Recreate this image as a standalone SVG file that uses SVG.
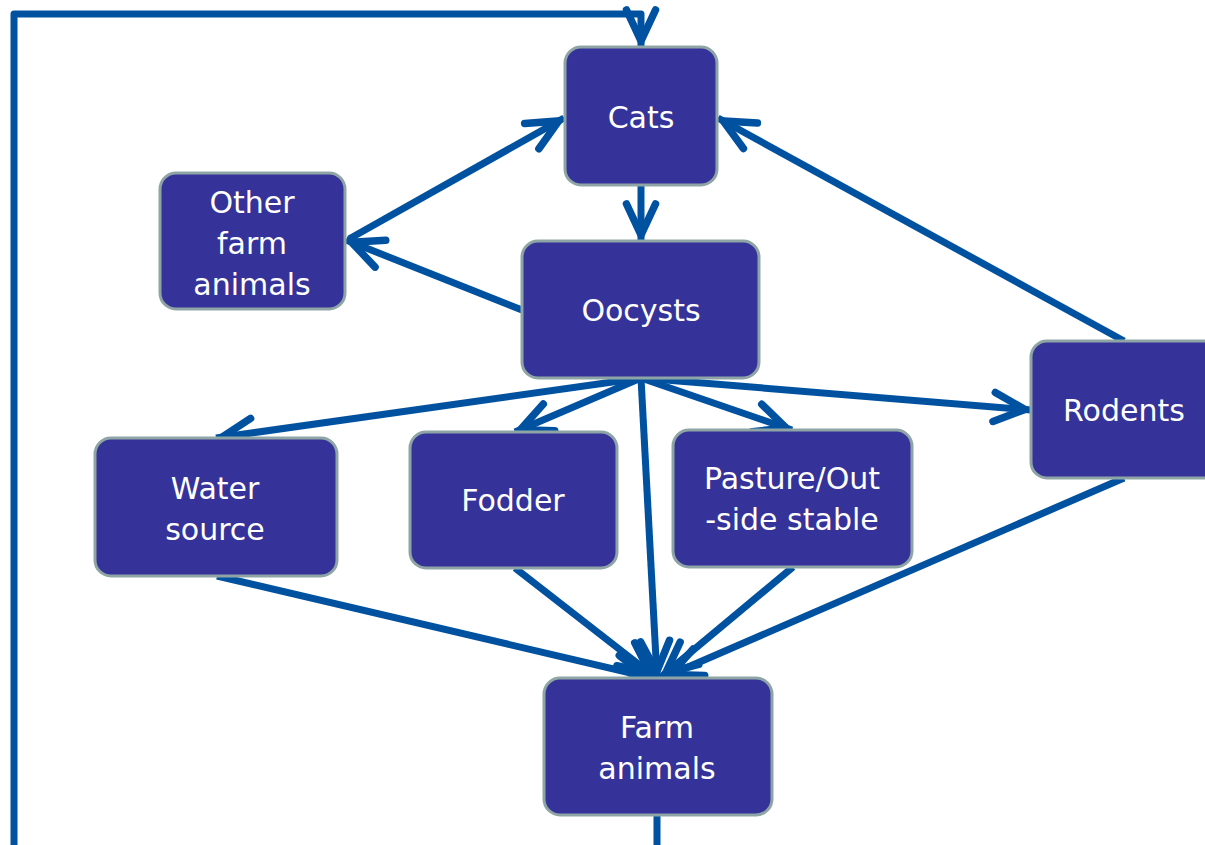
<svg xmlns="http://www.w3.org/2000/svg" width="1205" height="845" viewBox="0 0 1205 845">
<style>
.box{fill:#35339A;stroke:#8FA5A5;stroke-width:3}
.lbl{fill:#FFFFFF;font-family:"DejaVu Sans","Liberation Sans",sans-serif;font-size:30px;text-anchor:middle}
.con{fill:none;stroke:#0052A0;stroke-width:7;stroke-linejoin:round;marker-end:url(#arr)}
</style>
<defs>
<marker id="arr" markerUnits="userSpaceOnUse" viewBox="-45 -20 50 40" markerWidth="50" markerHeight="40" refX="0" refY="0" orient="auto" overflow="visible">
<path d="M -37 -14.5 L -6 0 L -37 14.5" fill="none" stroke="#0052A0" stroke-width="7.5" stroke-linecap="round" stroke-linejoin="miter" stroke-miterlimit="10"/>
</marker>
</defs>
<rect width="1205" height="845" fill="#FFFFFF"/>
<g id="connectors">
<path class="con" d="M 657 815 V 880 H 14 V 14 H 641 V 47"/>
<line class="con" x1="641" y1="186" x2="641" y2="241"/>
<line class="con" x1="522" y1="310" x2="346" y2="240"/>
<line class="con" x1="349" y1="239" x2="564" y2="118"/>
<line class="con" x1="1124" y1="341" x2="718" y2="118"/>
<line class="con" x1="641" y1="378" x2="1031" y2="410"/>
<line class="con" x1="641" y1="378" x2="216" y2="438"/>
<line class="con" x1="641" y1="378" x2="515" y2="432"/>
<line class="con" x1="641" y1="378" x2="792" y2="430"/>
<line class="con" x1="641" y1="378" x2="657" y2="678"/>
<line class="con" x1="217" y1="576" x2="652" y2="678"/>
<line class="con" x1="515" y1="568" x2="655" y2="677"/>
<line class="con" x1="793" y1="567" x2="661" y2="677"/>
<line class="con" x1="1124" y1="478" x2="665" y2="677"/>
</g>
<g id="node-cats">
<rect class="box" x="565" y="47" width="152" height="138" rx="16"/>
<text class="lbl" x="641" y="128">Cats</text>
</g>
<g id="node-other-farm-animals">
<rect class="box" x="160" y="173" width="185" height="136" rx="16"/>
<text class="lbl" x="252" y="213">Other</text>
<text class="lbl" x="252" y="254">farm</text>
<text class="lbl" x="252" y="295">animals</text>
</g>
<g id="node-oocysts">
<rect class="box" x="522" y="241" width="237" height="137" rx="16"/>
<text class="lbl" x="641" y="321">Oocysts</text>
</g>
<g id="node-rodents">
<rect class="box" x="1031" y="341" width="188" height="137" rx="16"/>
<text class="lbl" x="1124" y="421">Rodents</text>
</g>
<g id="node-water-source">
<rect class="box" x="95" y="438" width="242" height="138" rx="16"/>
<text class="lbl" x="215" y="499">Water</text>
<text class="lbl" x="215" y="540">source</text>
</g>
<g id="node-fodder">
<rect class="box" x="410" y="432" width="207" height="136" rx="16"/>
<text class="lbl" x="513" y="511">Fodder</text>
</g>
<g id="node-pasture">
<rect class="box" x="673" y="430" width="239" height="137" rx="16"/>
<text class="lbl" x="792" y="489">Pasture/Out</text>
<text class="lbl" x="792" y="530">-side stable</text>
</g>
<g id="node-farm-animals">
<rect class="box" x="544" y="678" width="228" height="137" rx="16"/>
<text class="lbl" x="657" y="738">Farm</text>
<text class="lbl" x="657" y="779">animals</text>
</g>
</svg>
